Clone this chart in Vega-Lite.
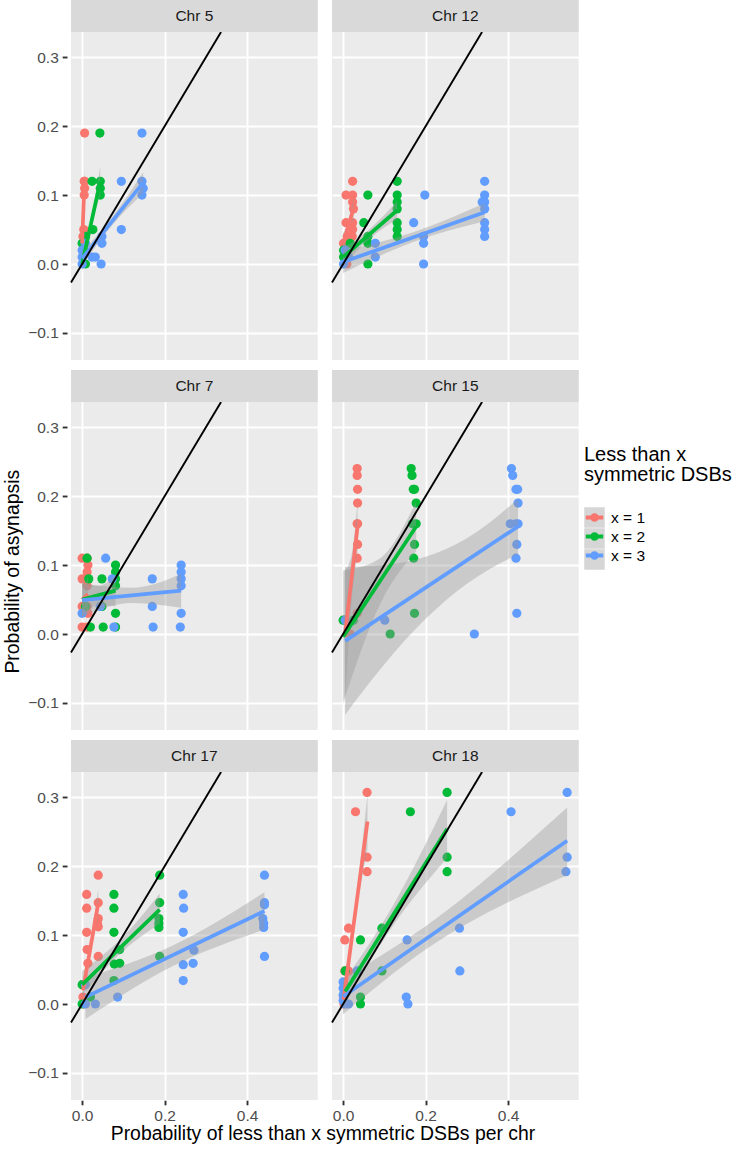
{
  "$schema": "https://vega.github.io/schema/vega-lite/v6.json",
  "background": "white",
  "padding": {"left": 3, "top": 0, "right": 0, "bottom": 0},
  "data": {"values": [
    {"k":"s","chr":"Chr 5"},{"k":"s","chr":"Chr 12"},{"k":"s","chr":"Chr 7"},{"k":"s","chr":"Chr 15"},{"k":"s","chr":"Chr 17"},{"k":"s","chr":"Chr 18"},
    {"k":"d","chr":"Chr 5","x":-0.027,"y":-0.027},{"k":"d","chr":"Chr 5","x":0.3367,"y":0.3367},
    {"k":"d","chr":"Chr 12","x":-0.027,"y":-0.027},{"k":"d","chr":"Chr 12","x":0.3367,"y":0.3367},
    {"k":"d","chr":"Chr 7","x":-0.027,"y":-0.027},{"k":"d","chr":"Chr 7","x":0.3367,"y":0.3367},
    {"k":"d","chr":"Chr 15","x":-0.027,"y":-0.027},{"k":"d","chr":"Chr 15","x":0.3367,"y":0.3367},
    {"k":"d","chr":"Chr 17","x":-0.027,"y":-0.027},{"k":"d","chr":"Chr 17","x":0.3367,"y":0.3367},
    {"k":"d","chr":"Chr 18","x":-0.027,"y":-0.027},{"k":"d","chr":"Chr 18","x":0.3367,"y":0.3367},

    {"k":"p","chr":"Chr 5","g":"x = 1","x":0.006,"y":0.19},{"k":"p","chr":"Chr 5","g":"x = 1","x":0.005,"y":0.12},{"k":"p","chr":"Chr 5","g":"x = 1","x":0.006,"y":0.12},{"k":"p","chr":"Chr 5","g":"x = 1","x":0.006,"y":0.11},{"k":"p","chr":"Chr 5","g":"x = 1","x":0.005,"y":0.10},{"k":"p","chr":"Chr 5","g":"x = 1","x":0.004,"y":0.05},{"k":"p","chr":"Chr 5","g":"x = 1","x":0.002,"y":0.04},
    {"k":"p","chr":"Chr 5","g":"x = 2","x":0.043,"y":0.19},{"k":"p","chr":"Chr 5","g":"x = 2","x":0.024,"y":0.12},{"k":"p","chr":"Chr 5","g":"x = 2","x":0.044,"y":0.12},{"k":"p","chr":"Chr 5","g":"x = 2","x":0.044,"y":0.11},{"k":"p","chr":"Chr 5","g":"x = 2","x":0.044,"y":0.10},{"k":"p","chr":"Chr 5","g":"x = 2","x":0.026,"y":0.05},{"k":"p","chr":"Chr 5","g":"x = 2","x":0.008,"y":0.04},{"k":"p","chr":"Chr 5","g":"x = 2","x":0.0,"y":0.03},{"k":"p","chr":"Chr 5","g":"x = 2","x":0.008,"y":0.0},{"k":"p","chr":"Chr 5","g":"x = 2","x":0.004,"y":0.02},
    {"k":"p","chr":"Chr 5","g":"x = 3","x":0.145,"y":0.19},{"k":"p","chr":"Chr 5","g":"x = 3","x":0.095,"y":0.12},{"k":"p","chr":"Chr 5","g":"x = 3","x":0.145,"y":0.12},{"k":"p","chr":"Chr 5","g":"x = 3","x":0.148,"y":0.11},{"k":"p","chr":"Chr 5","g":"x = 3","x":0.145,"y":0.10},{"k":"p","chr":"Chr 5","g":"x = 3","x":0.095,"y":0.05},{"k":"p","chr":"Chr 5","g":"x = 3","x":0.048,"y":0.04},{"k":"p","chr":"Chr 5","g":"x = 3","x":0.048,"y":0.03},{"k":"p","chr":"Chr 5","g":"x = 3","x":0.008,"y":0.03},{"k":"p","chr":"Chr 5","g":"x = 3","x":0.0,"y":0.02},{"k":"p","chr":"Chr 5","g":"x = 3","x":0.0,"y":0.01},{"k":"p","chr":"Chr 5","g":"x = 3","x":0.024,"y":0.01},{"k":"p","chr":"Chr 5","g":"x = 3","x":0.032,"y":0.01},{"k":"p","chr":"Chr 5","g":"x = 3","x":0.046,"y":0.0},{"k":"p","chr":"Chr 5","g":"x = 3","x":0.0,"y":0.0},

    {"k":"p","chr":"Chr 12","g":"x = 1","x":0.023,"y":0.12},{"k":"p","chr":"Chr 12","g":"x = 1","x":0.007,"y":0.10},{"k":"p","chr":"Chr 12","g":"x = 1","x":0.023,"y":0.10},{"k":"p","chr":"Chr 12","g":"x = 1","x":0.023,"y":0.09},{"k":"p","chr":"Chr 12","g":"x = 1","x":0.025,"y":0.08},{"k":"p","chr":"Chr 12","g":"x = 1","x":0.007,"y":0.06},{"k":"p","chr":"Chr 12","g":"x = 1","x":0.023,"y":0.06},{"k":"p","chr":"Chr 12","g":"x = 1","x":0.023,"y":0.05},{"k":"p","chr":"Chr 12","g":"x = 1","x":0.010,"y":0.04},{"k":"p","chr":"Chr 12","g":"x = 1","x":0.022,"y":0.04},{"k":"p","chr":"Chr 12","g":"x = 1","x":0.001,"y":0.03},{"k":"p","chr":"Chr 12","g":"x = 1","x":0.017,"y":0.03},{"k":"p","chr":"Chr 12","g":"x = 1","x":0.005,"y":0.02},{"k":"p","chr":"Chr 12","g":"x = 1","x":0.005,"y":0.01},{"k":"p","chr":"Chr 12","g":"x = 1","x":0.009,"y":0.0},
    {"k":"p","chr":"Chr 12","g":"x = 2","x":0.131,"y":0.12},{"k":"p","chr":"Chr 12","g":"x = 2","x":0.060,"y":0.10},{"k":"p","chr":"Chr 12","g":"x = 2","x":0.131,"y":0.10},{"k":"p","chr":"Chr 12","g":"x = 2","x":0.131,"y":0.09},{"k":"p","chr":"Chr 12","g":"x = 2","x":0.131,"y":0.08},{"k":"p","chr":"Chr 12","g":"x = 2","x":0.050,"y":0.06},{"k":"p","chr":"Chr 12","g":"x = 2","x":0.131,"y":0.06},{"k":"p","chr":"Chr 12","g":"x = 2","x":0.131,"y":0.05},{"k":"p","chr":"Chr 12","g":"x = 2","x":0.131,"y":0.04},{"k":"p","chr":"Chr 12","g":"x = 2","x":0.060,"y":0.04},{"k":"p","chr":"Chr 12","g":"x = 2","x":0.060,"y":0.03},{"k":"p","chr":"Chr 12","g":"x = 2","x":0.017,"y":0.03},{"k":"p","chr":"Chr 12","g":"x = 2","x":0.001,"y":0.02},{"k":"p","chr":"Chr 12","g":"x = 2","x":0.001,"y":0.01},{"k":"p","chr":"Chr 12","g":"x = 2","x":0.060,"y":0.0},
    {"k":"p","chr":"Chr 12","g":"x = 3","x":0.343,"y":0.12},{"k":"p","chr":"Chr 12","g":"x = 3","x":0.343,"y":0.10},{"k":"p","chr":"Chr 12","g":"x = 3","x":0.343,"y":0.09},{"k":"p","chr":"Chr 12","g":"x = 3","x":0.337,"y":0.09},{"k":"p","chr":"Chr 12","g":"x = 3","x":0.343,"y":0.08},{"k":"p","chr":"Chr 12","g":"x = 3","x":0.343,"y":0.06},{"k":"p","chr":"Chr 12","g":"x = 3","x":0.343,"y":0.05},{"k":"p","chr":"Chr 12","g":"x = 3","x":0.343,"y":0.04},{"k":"p","chr":"Chr 12","g":"x = 3","x":0.198,"y":0.10},{"k":"p","chr":"Chr 12","g":"x = 3","x":0.171,"y":0.06},{"k":"p","chr":"Chr 12","g":"x = 3","x":0.195,"y":0.04},{"k":"p","chr":"Chr 12","g":"x = 3","x":0.195,"y":0.03},{"k":"p","chr":"Chr 12","g":"x = 3","x":0.078,"y":0.03},{"k":"p","chr":"Chr 12","g":"x = 3","x":0.078,"y":0.01},{"k":"p","chr":"Chr 12","g":"x = 3","x":0.195,"y":0.0},{"k":"p","chr":"Chr 12","g":"x = 3","x":0.005,"y":0.02},{"k":"p","chr":"Chr 12","g":"x = 3","x":0.013,"y":0.01},{"k":"p","chr":"Chr 12","g":"x = 3","x":0.001,"y":0.0},

    {"k":"p","chr":"Chr 7","g":"x = 1","x":0.0,"y":0.11},{"k":"p","chr":"Chr 7","g":"x = 1","x":0.012,"y":0.11},{"k":"p","chr":"Chr 7","g":"x = 1","x":0.014,"y":0.10},{"k":"p","chr":"Chr 7","g":"x = 1","x":0.012,"y":0.09},{"k":"p","chr":"Chr 7","g":"x = 1","x":0.0,"y":0.08},{"k":"p","chr":"Chr 7","g":"x = 1","x":0.012,"y":0.08},{"k":"p","chr":"Chr 7","g":"x = 1","x":0.012,"y":0.07},{"k":"p","chr":"Chr 7","g":"x = 1","x":0.0,"y":0.04},{"k":"p","chr":"Chr 7","g":"x = 1","x":0.012,"y":0.04},{"k":"p","chr":"Chr 7","g":"x = 1","x":0.014,"y":0.03},{"k":"p","chr":"Chr 7","g":"x = 1","x":0.0,"y":0.01},{"k":"p","chr":"Chr 7","g":"x = 1","x":0.012,"y":0.01},
    {"k":"p","chr":"Chr 7","g":"x = 2","x":0.012,"y":0.11},{"k":"p","chr":"Chr 7","g":"x = 2","x":0.016,"y":0.08},{"k":"p","chr":"Chr 7","g":"x = 2","x":0.048,"y":0.08},{"k":"p","chr":"Chr 7","g":"x = 2","x":0.081,"y":0.10},{"k":"p","chr":"Chr 7","g":"x = 2","x":0.081,"y":0.09},{"k":"p","chr":"Chr 7","g":"x = 2","x":0.081,"y":0.08},{"k":"p","chr":"Chr 7","g":"x = 2","x":0.081,"y":0.07},{"k":"p","chr":"Chr 7","g":"x = 2","x":0.008,"y":0.04},{"k":"p","chr":"Chr 7","g":"x = 2","x":0.048,"y":0.04},{"k":"p","chr":"Chr 7","g":"x = 2","x":0.081,"y":0.03},{"k":"p","chr":"Chr 7","g":"x = 2","x":0.020,"y":0.01},{"k":"p","chr":"Chr 7","g":"x = 2","x":0.051,"y":0.01},{"k":"p","chr":"Chr 7","g":"x = 2","x":0.081,"y":0.01},
    {"k":"p","chr":"Chr 7","g":"x = 3","x":0.057,"y":0.11},{"k":"p","chr":"Chr 7","g":"x = 3","x":0.073,"y":0.08},{"k":"p","chr":"Chr 7","g":"x = 3","x":0.170,"y":0.08},{"k":"p","chr":"Chr 7","g":"x = 3","x":0.240,"y":0.10},{"k":"p","chr":"Chr 7","g":"x = 3","x":0.240,"y":0.09},{"k":"p","chr":"Chr 7","g":"x = 3","x":0.240,"y":0.08},{"k":"p","chr":"Chr 7","g":"x = 3","x":0.240,"y":0.07},{"k":"p","chr":"Chr 7","g":"x = 3","x":0.044,"y":0.04},{"k":"p","chr":"Chr 7","g":"x = 3","x":0.170,"y":0.04},{"k":"p","chr":"Chr 7","g":"x = 3","x":0.0,"y":0.03},{"k":"p","chr":"Chr 7","g":"x = 3","x":0.240,"y":0.03},{"k":"p","chr":"Chr 7","g":"x = 3","x":0.077,"y":0.01},{"k":"p","chr":"Chr 7","g":"x = 3","x":0.172,"y":0.01},{"k":"p","chr":"Chr 7","g":"x = 3","x":0.238,"y":0.01},

    {"k":"p","chr":"Chr 15","g":"x = 1","x":0.034,"y":0.24},{"k":"p","chr":"Chr 15","g":"x = 1","x":0.034,"y":0.23},{"k":"p","chr":"Chr 15","g":"x = 1","x":0.035,"y":0.21},{"k":"p","chr":"Chr 15","g":"x = 1","x":0.035,"y":0.19},{"k":"p","chr":"Chr 15","g":"x = 1","x":0.034,"y":0.16},{"k":"p","chr":"Chr 15","g":"x = 1","x":0.035,"y":0.16},{"k":"p","chr":"Chr 15","g":"x = 1","x":0.035,"y":0.13},{"k":"p","chr":"Chr 15","g":"x = 1","x":0.034,"y":0.11},{"k":"p","chr":"Chr 15","g":"x = 1","x":0.034,"y":0.03},{"k":"p","chr":"Chr 15","g":"x = 1","x":0.017,"y":0.0},{"k":"p","chr":"Chr 15","g":"x = 1","x":0.004,"y":0.02},
    {"k":"p","chr":"Chr 15","g":"x = 2","x":0.165,"y":0.24},{"k":"p","chr":"Chr 15","g":"x = 2","x":0.167,"y":0.23},{"k":"p","chr":"Chr 15","g":"x = 2","x":0.170,"y":0.21},{"k":"p","chr":"Chr 15","g":"x = 2","x":0.173,"y":0.21},{"k":"p","chr":"Chr 15","g":"x = 2","x":0.177,"y":0.19},{"k":"p","chr":"Chr 15","g":"x = 2","x":0.168,"y":0.16},{"k":"p","chr":"Chr 15","g":"x = 2","x":0.177,"y":0.16},{"k":"p","chr":"Chr 15","g":"x = 2","x":0.173,"y":0.13},{"k":"p","chr":"Chr 15","g":"x = 2","x":0.171,"y":0.11},{"k":"p","chr":"Chr 15","g":"x = 2","x":0.173,"y":0.03},{"k":"p","chr":"Chr 15","g":"x = 2","x":0.114,"y":0.0},{"k":"p","chr":"Chr 15","g":"x = 2","x":0.0,"y":0.02},{"k":"p","chr":"Chr 15","g":"x = 2","x":0.025,"y":0.02},
    {"k":"p","chr":"Chr 15","g":"x = 3","x":0.408,"y":0.24},{"k":"p","chr":"Chr 15","g":"x = 3","x":0.411,"y":0.23},{"k":"p","chr":"Chr 15","g":"x = 3","x":0.419,"y":0.21},{"k":"p","chr":"Chr 15","g":"x = 3","x":0.423,"y":0.21},{"k":"p","chr":"Chr 15","g":"x = 3","x":0.424,"y":0.19},{"k":"p","chr":"Chr 15","g":"x = 3","x":0.405,"y":0.16},{"k":"p","chr":"Chr 15","g":"x = 3","x":0.418,"y":0.16},{"k":"p","chr":"Chr 15","g":"x = 3","x":0.424,"y":0.16},{"k":"p","chr":"Chr 15","g":"x = 3","x":0.421,"y":0.13},{"k":"p","chr":"Chr 15","g":"x = 3","x":0.419,"y":0.11},{"k":"p","chr":"Chr 15","g":"x = 3","x":0.421,"y":0.03},{"k":"p","chr":"Chr 15","g":"x = 3","x":0.318,"y":0.0},{"k":"p","chr":"Chr 15","g":"x = 3","x":0.101,"y":0.02},{"k":"p","chr":"Chr 15","g":"x = 3","x":0.005,"y":0.02},

    {"k":"p","chr":"Chr 17","g":"x = 1","x":0.039,"y":0.187},{"k":"p","chr":"Chr 17","g":"x = 1","x":0.011,"y":0.159},{"k":"p","chr":"Chr 17","g":"x = 1","x":0.011,"y":0.139},{"k":"p","chr":"Chr 17","g":"x = 1","x":0.039,"y":0.147},{"k":"p","chr":"Chr 17","g":"x = 1","x":0.039,"y":0.124},{"k":"p","chr":"Chr 17","g":"x = 1","x":0.039,"y":0.112},{"k":"p","chr":"Chr 17","g":"x = 1","x":0.037,"y":0.117},{"k":"p","chr":"Chr 17","g":"x = 1","x":0.011,"y":0.104},{"k":"p","chr":"Chr 17","g":"x = 1","x":0.012,"y":0.079},{"k":"p","chr":"Chr 17","g":"x = 1","x":0.014,"y":0.059},{"k":"p","chr":"Chr 17","g":"x = 1","x":0.039,"y":0.069},{"k":"p","chr":"Chr 17","g":"x = 1","x":0.002,"y":0.028},{"k":"p","chr":"Chr 17","g":"x = 1","x":0.002,"y":0.01},{"k":"p","chr":"Chr 17","g":"x = 1","x":0.004,"y":0.0},
    {"k":"p","chr":"Chr 17","g":"x = 2","x":0.188,"y":0.187},{"k":"p","chr":"Chr 17","g":"x = 2","x":0.077,"y":0.159},{"k":"p","chr":"Chr 17","g":"x = 2","x":0.077,"y":0.139},{"k":"p","chr":"Chr 17","g":"x = 2","x":0.188,"y":0.147},{"k":"p","chr":"Chr 17","g":"x = 2","x":0.186,"y":0.124},{"k":"p","chr":"Chr 17","g":"x = 2","x":0.186,"y":0.117},{"k":"p","chr":"Chr 17","g":"x = 2","x":0.186,"y":0.111},{"k":"p","chr":"Chr 17","g":"x = 2","x":0.077,"y":0.104},{"k":"p","chr":"Chr 17","g":"x = 2","x":0.091,"y":0.079},{"k":"p","chr":"Chr 17","g":"x = 2","x":0.078,"y":0.058},{"k":"p","chr":"Chr 17","g":"x = 2","x":0.091,"y":0.059},{"k":"p","chr":"Chr 17","g":"x = 2","x":0.077,"y":0.034},{"k":"p","chr":"Chr 17","g":"x = 2","x":0.020,"y":0.01},{"k":"p","chr":"Chr 17","g":"x = 2","x":0.0,"y":0.028},{"k":"p","chr":"Chr 17","g":"x = 2","x":0.0,"y":0.0},{"k":"p","chr":"Chr 17","g":"x = 2","x":0.188,"y":0.069},
    {"k":"p","chr":"Chr 17","g":"x = 3","x":0.442,"y":0.187},{"k":"p","chr":"Chr 17","g":"x = 3","x":0.245,"y":0.159},{"k":"p","chr":"Chr 17","g":"x = 3","x":0.246,"y":0.139},{"k":"p","chr":"Chr 17","g":"x = 3","x":0.442,"y":0.147},{"k":"p","chr":"Chr 17","g":"x = 3","x":0.442,"y":0.144},{"k":"p","chr":"Chr 17","g":"x = 3","x":0.438,"y":0.124},{"k":"p","chr":"Chr 17","g":"x = 3","x":0.440,"y":0.117},{"k":"p","chr":"Chr 17","g":"x = 3","x":0.440,"y":0.111},{"k":"p","chr":"Chr 17","g":"x = 3","x":0.245,"y":0.104},{"k":"p","chr":"Chr 17","g":"x = 3","x":0.271,"y":0.078},{"k":"p","chr":"Chr 17","g":"x = 3","x":0.245,"y":0.057},{"k":"p","chr":"Chr 17","g":"x = 3","x":0.269,"y":0.059},{"k":"p","chr":"Chr 17","g":"x = 3","x":0.245,"y":0.034},{"k":"p","chr":"Chr 17","g":"x = 3","x":0.442,"y":0.069},{"k":"p","chr":"Chr 17","g":"x = 3","x":0.086,"y":0.01},{"k":"p","chr":"Chr 17","g":"x = 3","x":0.032,"y":0.0},{"k":"p","chr":"Chr 17","g":"x = 3","x":0.008,"y":0.0},{"k":"p","chr":"Chr 17","g":"x = 3","x":0.008,"y":0.028},

    {"k":"p","chr":"Chr 18","g":"x = 1","x":0.058,"y":0.307},{"k":"p","chr":"Chr 18","g":"x = 1","x":0.030,"y":0.279},{"k":"p","chr":"Chr 18","g":"x = 1","x":0.058,"y":0.213},{"k":"p","chr":"Chr 18","g":"x = 1","x":0.058,"y":0.192},{"k":"p","chr":"Chr 18","g":"x = 1","x":0.013,"y":0.110},{"k":"p","chr":"Chr 18","g":"x = 1","x":0.004,"y":0.093},{"k":"p","chr":"Chr 18","g":"x = 1","x":0.004,"y":0.048},{"k":"p","chr":"Chr 18","g":"x = 1","x":0.013,"y":0.048},{"k":"p","chr":"Chr 18","g":"x = 1","x":0.002,"y":0.0},{"k":"p","chr":"Chr 18","g":"x = 1","x":0.001,"y":0.01},
    {"k":"p","chr":"Chr 18","g":"x = 2","x":0.252,"y":0.307},{"k":"p","chr":"Chr 18","g":"x = 2","x":0.163,"y":0.279},{"k":"p","chr":"Chr 18","g":"x = 2","x":0.252,"y":0.213},{"k":"p","chr":"Chr 18","g":"x = 2","x":0.252,"y":0.192},{"k":"p","chr":"Chr 18","g":"x = 2","x":0.094,"y":0.110},{"k":"p","chr":"Chr 18","g":"x = 2","x":0.042,"y":0.093},{"k":"p","chr":"Chr 18","g":"x = 2","x":0.005,"y":0.048},{"k":"p","chr":"Chr 18","g":"x = 2","x":0.094,"y":0.048},{"k":"p","chr":"Chr 18","g":"x = 2","x":0.042,"y":0.01},{"k":"p","chr":"Chr 18","g":"x = 2","x":0.042,"y":0.0},
    {"k":"p","chr":"Chr 18","g":"x = 3","x":0.543,"y":0.307},{"k":"p","chr":"Chr 18","g":"x = 3","x":0.407,"y":0.279},{"k":"p","chr":"Chr 18","g":"x = 3","x":0.543,"y":0.213},{"k":"p","chr":"Chr 18","g":"x = 3","x":0.540,"y":0.192},{"k":"p","chr":"Chr 18","g":"x = 3","x":0.282,"y":0.110},{"k":"p","chr":"Chr 18","g":"x = 3","x":0.155,"y":0.093},{"k":"p","chr":"Chr 18","g":"x = 3","x":0.034,"y":0.048},{"k":"p","chr":"Chr 18","g":"x = 3","x":0.283,"y":0.048},{"k":"p","chr":"Chr 18","g":"x = 3","x":0.153,"y":0.01},{"k":"p","chr":"Chr 18","g":"x = 3","x":0.157,"y":0.0},{"k":"p","chr":"Chr 18","g":"x = 3","x":0.0,"y":0.032},{"k":"p","chr":"Chr 18","g":"x = 3","x":0.0,"y":0.023},{"k":"p","chr":"Chr 18","g":"x = 3","x":0.0,"y":0.013},{"k":"p","chr":"Chr 18","g":"x = 3","x":0.005,"y":0.0},{"k":"p","chr":"Chr 18","g":"x = 3","x":0.013,"y":0.0},{"k":"p","chr":"Chr 18","g":"x = 3","x":0.0,"y":0.005},

    {"k":"l","chr":"Chr 5","g":"x = 1","x":0.0,"y":0.03},{"k":"l","chr":"Chr 5","g":"x = 1","x":0.006,"y":0.125},
    {"k":"l","chr":"Chr 5","g":"x = 2","x":0.0,"y":0.0},{"k":"l","chr":"Chr 5","g":"x = 2","x":0.044,"y":0.12},
    {"k":"l","chr":"Chr 5","g":"x = 3","x":0.0,"y":0.008},{"k":"l","chr":"Chr 5","g":"x = 3","x":0.148,"y":0.118},
    {"k":"l","chr":"Chr 12","g":"x = 1","x":0.0,"y":0.03},{"k":"l","chr":"Chr 12","g":"x = 1","x":0.025,"y":0.08},
    {"k":"l","chr":"Chr 12","g":"x = 2","x":0.0,"y":0.01},{"k":"l","chr":"Chr 12","g":"x = 2","x":0.131,"y":0.078},
    {"k":"l","chr":"Chr 12","g":"x = 3","x":0.0,"y":0.003},{"k":"l","chr":"Chr 12","g":"x = 3","x":0.343,"y":0.075},
    {"k":"l","chr":"Chr 7","g":"x = 1","x":0.0,"y":0.05},{"k":"l","chr":"Chr 7","g":"x = 1","x":0.014,"y":0.058},
    {"k":"l","chr":"Chr 7","g":"x = 2","x":0.0,"y":0.05},{"k":"l","chr":"Chr 7","g":"x = 2","x":0.081,"y":0.063},
    {"k":"l","chr":"Chr 7","g":"x = 3","x":0.0,"y":0.049},{"k":"l","chr":"Chr 7","g":"x = 3","x":0.240,"y":0.063},
    {"k":"l","chr":"Chr 15","g":"x = 1","x":0.004,"y":-0.004},{"k":"l","chr":"Chr 15","g":"x = 1","x":0.035,"y":0.156},
    {"k":"l","chr":"Chr 15","g":"x = 2","x":0.0,"y":-0.004},{"k":"l","chr":"Chr 15","g":"x = 2","x":0.177,"y":0.156},
    {"k":"l","chr":"Chr 15","g":"x = 3","x":0.005,"y":-0.01},{"k":"l","chr":"Chr 15","g":"x = 3","x":0.424,"y":0.156},
    {"k":"l","chr":"Chr 17","g":"x = 1","x":0.002,"y":0.02},{"k":"l","chr":"Chr 17","g":"x = 1","x":0.039,"y":0.146},
    {"k":"l","chr":"Chr 17","g":"x = 2","x":0.0,"y":0.028},{"k":"l","chr":"Chr 17","g":"x = 2","x":0.188,"y":0.137},
    {"k":"l","chr":"Chr 17","g":"x = 3","x":0.008,"y":0.01},{"k":"l","chr":"Chr 17","g":"x = 3","x":0.442,"y":0.135},
    {"k":"l","chr":"Chr 18","g":"x = 1","x":0.001,"y":0.006},{"k":"l","chr":"Chr 18","g":"x = 1","x":0.059,"y":0.265},
    {"k":"l","chr":"Chr 18","g":"x = 2","x":0.005,"y":0.018},{"k":"l","chr":"Chr 18","g":"x = 2","x":0.252,"y":0.254},
    {"k":"l","chr":"Chr 18","g":"x = 3","x":0.0,"y":0.011},{"k":"l","chr":"Chr 18","g":"x = 3","x":0.543,"y":0.237},

    {"k":"b","chr":"Chr 5","gb":"x = 1","x":0.0,"lo":0.015,"hi":0.045},{"k":"b","chr":"Chr 5","gb":"x = 1","x":0.003,"lo":0.07,"hi":0.085},{"k":"b","chr":"Chr 5","gb":"x = 1","x":0.006,"lo":0.11,"hi":0.14},
    {"k":"b","chr":"Chr 5","gb":"x = 2","x":0.0,"lo":-0.012,"hi":0.012},{"k":"b","chr":"Chr 5","gb":"x = 2","x":0.022,"lo":0.053,"hi":0.067},{"k":"b","chr":"Chr 5","gb":"x = 2","x":0.044,"lo":0.10,"hi":0.142},
    {"k":"b","chr":"Chr 5","gb":"x = 3","x":0.0,"lo":-0.002,"hi":0.018},{"k":"b","chr":"Chr 5","gb":"x = 3","x":0.074,"lo":0.057,"hi":0.069},{"k":"b","chr":"Chr 5","gb":"x = 3","x":0.148,"lo":0.103,"hi":0.133},
    {"k":"b","chr":"Chr 12","gb":"x = 1","x":0.0,"lo":0.015,"hi":0.045},{"k":"b","chr":"Chr 12","gb":"x = 1","x":0.0125,"lo":0.048,"hi":0.062},{"k":"b","chr":"Chr 12","gb":"x = 1","x":0.025,"lo":0.063,"hi":0.097},
    {"k":"b","chr":"Chr 12","gb":"x = 2","x":0.0,"lo":-0.003,"hi":0.023},{"k":"b","chr":"Chr 12","gb":"x = 2","x":0.065,"lo":0.037,"hi":0.051},{"k":"b","chr":"Chr 12","gb":"x = 2","x":0.131,"lo":0.065,"hi":0.091},
    {"k":"b","chr":"Chr 12","gb":"x = 3","x":0.0,"lo":-0.013,"hi":0.019},{"k":"b","chr":"Chr 12","gb":"x = 3","x":0.17,"lo":0.032,"hi":0.046},{"k":"b","chr":"Chr 12","gb":"x = 3","x":0.343,"lo":0.062,"hi":0.088},
    {"k":"b","chr":"Chr 7","gb":"x = 1","x":0.0,"lo":0.02,"hi":0.08},{"k":"b","chr":"Chr 7","gb":"x = 1","x":0.007,"lo":0.038,"hi":0.07},{"k":"b","chr":"Chr 7","gb":"x = 1","x":0.014,"lo":0.03,"hi":0.086},
    {"k":"b","chr":"Chr 7","gb":"x = 2","x":0.0,"lo":0.025,"hi":0.075},{"k":"b","chr":"Chr 7","gb":"x = 2","x":0.04,"lo":0.042,"hi":0.07},{"k":"b","chr":"Chr 7","gb":"x = 2","x":0.081,"lo":0.04,"hi":0.086},
    {"k":"b","chr":"Chr 7","gb":"x = 3","x":0.0,"lo":0.025,"hi":0.073},{"k":"b","chr":"Chr 7","gb":"x = 3","x":0.12,"lo":0.045,"hi":0.067},{"k":"b","chr":"Chr 7","gb":"x = 3","x":0.24,"lo":0.038,"hi":0.087},
    {"k":"b","chr":"Chr 15","gb":"x = 1","x":0.004,"lo":-0.1,"hi":0.092},{"k":"b","chr":"Chr 15","gb":"x = 1","x":0.02,"lo":0.044,"hi":0.114},{"k":"b","chr":"Chr 15","gb":"x = 1","x":0.035,"lo":0.12,"hi":0.192},
    {"k":"b","chr":"Chr 15","gb":"x = 2","x":0.0,"lo":-0.1,"hi":0.092},{"k":"b","chr":"Chr 15","gb":"x = 2","x":0.09,"lo":0.044,"hi":0.11},{"k":"b","chr":"Chr 15","gb":"x = 2","x":0.177,"lo":0.12,"hi":0.192},
    {"k":"b","chr":"Chr 15","gb":"x = 3","x":0.005,"lo":-0.117,"hi":0.097},{"k":"b","chr":"Chr 15","gb":"x = 3","x":0.1,"lo":-0.044,"hi":0.1},{"k":"b","chr":"Chr 15","gb":"x = 3","x":0.2,"lo":0.022,"hi":0.112},{"k":"b","chr":"Chr 15","gb":"x = 3","x":0.3,"lo":0.073,"hi":0.139},{"k":"b","chr":"Chr 15","gb":"x = 3","x":0.424,"lo":0.116,"hi":0.196},
    {"k":"b","chr":"Chr 17","gb":"x = 1","x":0.002,"lo":0.005,"hi":0.035},{"k":"b","chr":"Chr 17","gb":"x = 1","x":0.02,"lo":0.072,"hi":0.09},{"k":"b","chr":"Chr 17","gb":"x = 1","x":0.039,"lo":0.125,"hi":0.167},
    {"k":"b","chr":"Chr 17","gb":"x = 2","x":0.0,"lo":0.012,"hi":0.048},{"k":"b","chr":"Chr 17","gb":"x = 2","x":0.09,"lo":0.072,"hi":0.092},{"k":"b","chr":"Chr 17","gb":"x = 2","x":0.188,"lo":0.117,"hi":0.16},
    {"k":"b","chr":"Chr 17","gb":"x = 3","x":0.008,"lo":-0.022,"hi":0.038},{"k":"b","chr":"Chr 17","gb":"x = 3","x":0.22,"lo":0.055,"hi":0.085},{"k":"b","chr":"Chr 17","gb":"x = 3","x":0.442,"lo":0.108,"hi":0.162},
    {"k":"b","chr":"Chr 18","gb":"x = 1","x":0.001,"lo":-0.015,"hi":0.027},{"k":"b","chr":"Chr 18","gb":"x = 1","x":0.03,"lo":0.125,"hi":0.146},{"k":"b","chr":"Chr 18","gb":"x = 1","x":0.059,"lo":0.225,"hi":0.305},
    {"k":"b","chr":"Chr 18","gb":"x = 2","x":0.005,"lo":0.0,"hi":0.036},{"k":"b","chr":"Chr 18","gb":"x = 2","x":0.12,"lo":0.113,"hi":0.142},{"k":"b","chr":"Chr 18","gb":"x = 2","x":0.252,"lo":0.212,"hi":0.296},
    {"k":"b","chr":"Chr 18","gb":"x = 3","x":0.0,"lo":-0.015,"hi":0.037},{"k":"b","chr":"Chr 18","gb":"x = 3","x":0.2,"lo":0.079,"hi":0.113},{"k":"b","chr":"Chr 18","gb":"x = 3","x":0.543,"lo":0.187,"hi":0.285}
  ]},
  "facet": {
    "field": "chr", "type": "nominal",
    "sort": ["Chr 5","Chr 12","Chr 7","Chr 15","Chr 17","Chr 18"],
    "header": {"labels": false, "labelFontSize": 0, "labelPadding": 0, "labelExpr": "''",
               "title": "Probability of less than x symmetric DSBs per chr", "titleOrient": "bottom", "titleFontSize": 19.4, "titleFontWeight": "normal", "titleColor": "black", "titleFont": "Liberation Sans", "titlePadding": 0}
  },
  "columns": 2,
  "spacing": 10,
  "title": {"text": "Probability of asynapsis", "orient": "left", "anchor": "middle", "fontSize": 19.4, "fontWeight": "normal", "color": "black", "font": "Liberation Sans", "offset": 4},
  "spec": {
    "width": 246.7,
    "height": 360,
    "layer": [
      {
        "transform": [{"filter": "datum.k == 'p'"}],
        "mark": {"type": "point", "filled": true, "size": 85, "opacity": 1},
        "encoding": {
          "x": {"field": "x", "type": "quantitative", "scale": {"domain": [-0.027, 0.571], "nice": false, "zero": false},
                "axis": {"orient": "bottom", "values": [0, 0.2, 0.4], "format": ".1f", "gridWidth": 1.9, "title": null}},
          "y": {"field": "y", "type": "quantitative", "scale": {"domain": [-0.1393, 0.3831], "nice": false, "zero": false},
                "axis": {"orient": "left", "values": [-0.1, 0, 0.1, 0.2, 0.3], "format": ".1f", "gridWidth": 1.9, "title": null}},
          "color": {"field": "g", "type": "nominal",
                    "scale": {"domain": ["x = 1", "x = 2", "x = 3"], "range": ["#F8766D", "#00BA38", "#619CFF"]},
                    "legend": {"orient": "none", "legendX": 513, "legendY": 445, "zindex": 2,
                               "title": ["Less than x", "symmetric DSBs"],
                               "symbolType": "M-0.85,-0.19L0.85,-0.19L0.85,0.19L-0.85,0.19Z M-0.42,0A0.42,0.42 0 1,1 0.42,0A0.42,0.42 0 1,1 -0.42,0Z",
                               "symbolSize": 420, "symbolStrokeWidth": 0, "symbolOpacity": 1}}
        }
      },
      {
        "transform": [{"filter": "datum.k == 'b'"}],
        "mark": {"type": "area", "interpolate": "monotone", "color": "#999999"},
        "encoding": {
          "x": {"field": "x", "type": "quantitative", "scale": {"domain": [-0.027, 0.571], "nice": false, "zero": false},
                "axis": {"orient": "top", "values": [0.1, 0.3, 0.5], "gridWidth": 0.95, "labels": false, "ticks": false, "title": null}},
          "y": {"field": "lo", "type": "quantitative", "scale": {"domain": [-0.1393, 0.3831], "nice": false, "zero": false},
                "axis": {"orient": "right", "values": [-0.05, 0.05, 0.15, 0.25], "gridWidth": 0.95, "labels": false, "ticks": false, "title": null}},
          "y2": {"field": "hi"},
          "detail": {"field": "gb"},
          "opacity": {"field": "gb", "type": "ordinal",
                      "scale": {"range": [0.4, 0.4, 0.4]},
                      "legend": {"orient": "none", "legendX": 513, "legendY": 445, "zindex": 1,
                                 "title": [" ", " "], "titleOpacity": 0, "labelOpacity": 0, "labelExpr": "''",
                                 "symbolType": "square", "symbolSize": 420, "symbolFillColor": "#CDCDCD", "symbolStrokeWidth": 0,
                                 "encode": {"symbols": {"update": {"opacity": {"value": 1}, "fill": {"value": "#CDCDCD"}}}}}}
        }
      },
      {
        "transform": [{"filter": "datum.k == 'l'"}],
        "mark": {"type": "line", "strokeWidth": 3.75},
        "encoding": {
          "x": {"field": "x", "type": "quantitative", "scale": {"domain": [-0.027, 0.571], "nice": false, "zero": false}, "axis": null},
          "y": {"field": "y", "type": "quantitative", "scale": {"domain": [-0.1393, 0.3831], "nice": false, "zero": false}, "axis": null},
          "color": {"field": "g", "type": "nominal", "legend": null}
        }
      },
      {
        "transform": [{"filter": "datum.k == 'd'"}],
        "mark": {"type": "line", "color": "black", "strokeWidth": 1.9},
        "encoding": {
          "x": {"field": "x", "type": "quantitative", "scale": {"domain": [-0.027, 0.571], "nice": false, "zero": false}, "axis": null},
          "y": {"field": "y", "type": "quantitative", "scale": {"domain": [-0.1393, 0.3831], "nice": false, "zero": false}, "axis": null}
        }
      },
      {
        "transform": [{"filter": "datum.k == 's'"}],
        "mark": {"type": "rect", "color": "#D9D9D9"},
        "encoding": {
          "x": {"datum": -0.027, "type": "quantitative", "scale": {"domain": [-0.027, 0.571], "nice": false, "zero": false}, "axis": null},
          "x2": {"datum": 0.571},
          "y": {"datum": 0.3367, "type": "quantitative", "scale": {"domain": [-0.1393, 0.3831], "nice": false, "zero": false}, "axis": null},
          "y2": {"datum": 0.3831}
        }
      },
      {
        "transform": [{"filter": "datum.k == 's'"}],
        "mark": {"type": "text", "fontSize": 15.5, "color": "#1A1A1A", "font": "Liberation Sans", "baseline": "middle", "align": "center"},
        "encoding": {
          "x": {"datum": 0.272, "type": "quantitative", "scale": {"domain": [-0.027, 0.571], "nice": false, "zero": false}, "axis": null},
          "y": {"datum": 0.3599, "type": "quantitative", "scale": {"domain": [-0.1393, 0.3831], "nice": false, "zero": false}, "axis": null},
          "text": {"field": "chr"}
        }
      }
    ]
  },
  "config": {
    "font": "Liberation Sans",
    "view": {"fill": "#EBEBEB", "stroke": null},
    "headerFacet": {"labels": false, "labelFontSize": 0, "labelPadding": 0},
    "header": {"labels": false, "labelFontSize": 0, "labelPadding": 0},
    "axis": {"domain": false, "gridColor": "white", "tickColor": "#333333", "tickWidth": 1.9, "tickSize": 4.8,
             "labelColor": "#4D4D4D", "labelFontSize": 15.5, "labelFont": "Liberation Sans", "labelPadding": 3.9},
    "legend": {"titleFontSize": 20, "titleFontWeight": "normal", "titleColor": "black", "titleFont": "Liberation Sans",
               "titleLineHeight": 20, "titlePadding": 22, "labelFontSize": 15.5, "labelColor": "black", "labelFont": "Liberation Sans",
               "labelOffset": 6, "rowPadding": 0}
  }
}
